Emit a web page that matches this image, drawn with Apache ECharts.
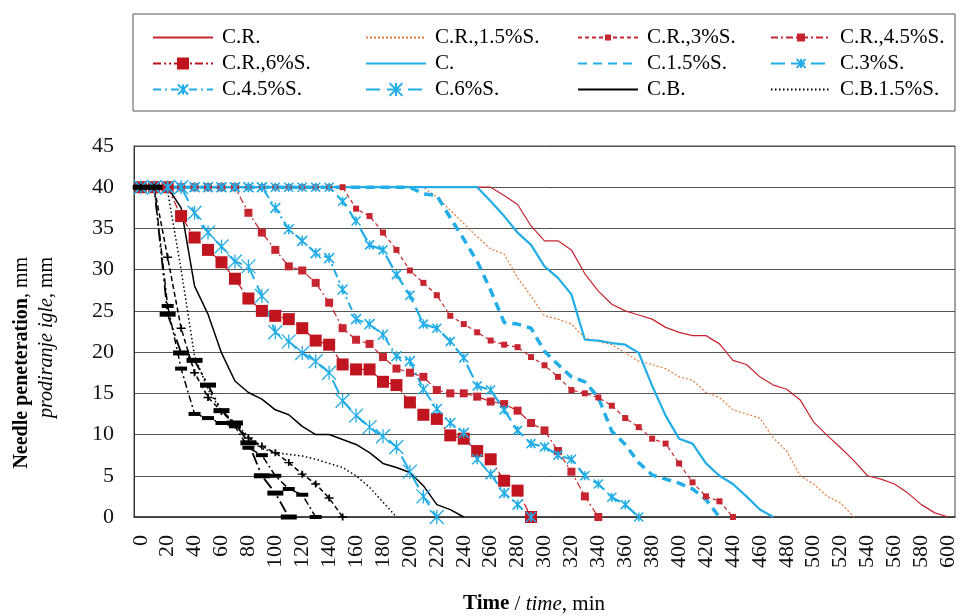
<!DOCTYPE html>
<html><head><meta charset="utf-8">
<script src="https://cdn.jsdelivr.net/npm/echarts/dist/echarts.min.js"></script>
<style>html,body{margin:0;padding:0;background:#fff}#c{width:961px;height:616px}</style>
</head><body><div id="c"></div>
<script>
// time categories (min)
const times = ['0','10','20','30','40','50','60','70','80','90','100','110','120','130','140','150','160','170','180','190','200','210','220','230','240','250','260','270','280','290','300','310','320','330','340','350','360','370','380','390','400','410','420','430','440','450','460','470','480','490','500','510','520','530','540','550','560','570','580','590','600'];

const cR = [40,40,40,40,40,40,40,40,40,40,40,40,40,40,40,40,40,40,40,40,40,40,40,40,40,40,40,39,37.9,35.3,33.5,33.5,32.4,29.5,27.4,25.8,25,24.5,24,23,22.4,22,22,21,19,18.5,17,16,15.5,14.2,11.5,9.9,8.4,6.8,5,4.6,4,2.9,1.5,0.5,0];
const cR15 = [40,40,40,40,40,40,40,40,40,40,40,40,40,40,40,40,40,40,40,40,40,40,38.8,37.2,35.6,34,32.5,31.9,29,26.8,24.4,24,23.4,21.7,21.3,20.9,19.9,18.9,18.5,18,17,16.6,15.1,14.5,13,12.5,12,9.6,8,5,4,2.5,1.7,0];
const cR3 = [40,40,40,40,40,40,40,40,40,40,40,40,40,40,40,40,37.4,36.5,34.5,32.4,29.9,28.4,26.9,24.4,23.4,22.4,21.4,20.9,20.6,19.4,18.4,17,15.4,15,14.5,13.5,12,10.9,9.5,8.9,6.5,4.2,2.5,1.9,0];
const cR45 = [40,40,40,40,40,40,40,40,36.9,34.5,32.4,30.4,29.9,28.4,26,22.9,21.5,21,19.4,18,17.5,17,15.4,15,15,14.6,14,13.7,12.9,11.4,10.5,8,5.5,2.5,0];
const cR6 = [40,40,40,36.5,33.9,32.4,30.9,28.9,26.5,25,24.4,24,22.9,21.4,20.9,18.5,17.9,17.9,16.4,16,13.9,12.4,11.9,9.9,9.5,8,7,4.4,3.2,0];
const c0 = [40,40,40,40,40,40,40,40,40,40,40,40,40,40,40,40,40,40,40,40,40,40,40,40,40,40,38.3,36.5,34.5,33,30.4,29,27,21.5,21.4,21.1,20.9,19.9,15.9,12.3,9.5,8.9,6.5,5,4,2.5,0.9,0];
const c15 = [40,40,40,40,40,40,40,40,40,40,40,40,40,40,40,40,40,40,40,40,40,39.2,39,36.3,33.7,31,27.5,23.6,23.4,22.9,20.1,18.5,17,16.4,14.5,10.4,8.8,6.6,5.1,4.6,4.1,3.4,2.1,0];
const c3 = [40,40,40,40,40,40,40,40,40,40,40,40,40,40,40,38.3,35.9,33,32.4,29.4,26.9,23.4,22.9,21.3,19.3,15.9,15.4,13,10.5,8.9,8.5,7.5,7,5,4,2.4,1.5,0];
const c45 = [40,40,40,40,40,40,40,40,40,40,37.5,34.9,33.5,32,31.4,27.6,24,23.4,22.1,19.5,18.9,15.5,13.1,11.4,10.2,7,5.2,2.9,1.5,0];
const c6 = [40,40,40,40,36.9,34.5,32.8,31,30.4,26.8,22.4,21.3,19.9,18.9,17.5,14.1,12.3,10.9,9.8,8.5,5.5,2.5,0];
const cB = [40,40,40,37.5,28,24.6,19.9,16.5,15.1,14.3,13,12.4,11,10,10,9.4,8.8,7.8,6.5,6,5.4,3.8,1.5,0.9,0];
const cB15 = [40,40,39.5,30,19.5,15.5,12.8,11.3,9.8,8.3,7.8,7.6,7.4,7,6.5,6,5,3.6,1.8,0];
const cB3 = [40,40,31.5,22.9,17.5,14.5,12.8,11.2,9.6,8.6,7.8,6.6,5.2,4,2.3,0];
const cB45 = [40,40,25.6,18,12.5,12,11.4,11,8.4,7.5,5,3.4,2.7,0];
const cB6 = [40,40,24.6,19.9,19,16,12.9,11.4,9,5,2.9,0];

const yTicks = [0,5,10,15,20,25,30,35,40,45];

const RED = '#C62530', DRED = '#C0141F', ORANGE = '#E27A3C', BLUE = '#22ADE6', BLACK = '#000000';
const STAR = 'path://M5 0L5 10M0 0L10 10M0 10L10 0';
const PLUS = 'path://M0 5L10 5M5 1.5L5 8.5';

function mk(name, data, color, width, dash, symbol, size, bw) {
  const s = {
    name: name, type: 'line', data: data, showAllSymbol: true,
    lineStyle: {color: color, width: width, type: dash || 'solid'},
    itemStyle: {color: symbol ? color : 'rgba(0,0,0,0)', borderWidth: 0},
    symbol: symbol || 'rect', symbolSize: size || 1, showSymbol: !!symbol,
    emphasis: {disabled: true}, animation: false
  };
  if (bw) { s.itemStyle.borderColor = color; s.itemStyle.borderWidth = bw; }
  return s;
}

const series = [
  mk('C.R.', cR, RED, 1.2, 'solid'),
  mk('C.R.,1.5%S.', cR15, ORANGE, 1.2, [2,2]),
  mk('C.R.,3%S.', cR3, RED, 1.2, [4,3], 'rect', 6),
  mk('C.R.,4.5%S.', cR45, RED, 1.2, [7,3,2,3], 'rect', 8),
  mk('C.R.,6%S.', cR6, DRED, 1.2, [8,3,2,3,2,3], 'rect', 12),
  mk('C.', c0, BLUE, 2.2, 'solid'),
  mk('C.1.5%S.', c15, BLUE, 3.5, [9,6]),
  mk('C.3%S.', c3, BLUE, 2.2, [14,6], STAR, 9, 1.6),
  mk('C.4.5%S.', c45, BLUE, 2, [8,4,2,4], STAR, 10, 1.6),
  mk('C.6%S.', c6, BLUE, 2, [14,7], STAR, 14, 1.3),
  mk('C.B.', cB, BLACK, 1.5, 'solid'),
  mk('C.B.1.5%S.', cB15, BLACK, 1.5, [1.5,2.5]),
  mk('C.B.3%S.', cB3, BLACK, 1.5, [5,3], PLUS, [9,7], 1.6),
  mk('C.B.4.5%S.', cB45, BLACK, 1.5, [7,3,2,3], 'rect', [12,4]),
  mk('C.B.6%S.', cB6, BLACK, 1.8, [12,4,2,4,2,4], 'rect', [16,5])
];

const FONT = '"Liberation Serif", "Times New Roman", serif';
// legend layout: [name, column left, row center, icon height]
const legendItems = [
  ['C.R.', 152, 37, 14], ['C.R.,1.5%S.', 365, 37, 14], ['C.R.,3%S.', 577, 37, 7.5], ['C.R.,4.5%S.', 770, 37, 10],
  ['C.R.,6%S.', 152, 63, 15], ['C.', 365, 63, 14], ['C.1.5%S.', 577, 63, 14], ['C.3%S.', 770, 63, 11],
  ['C.4.5%S.', 152, 89, 12.5], ['C.6%S.', 365, 89, 16], ['C.B.', 577, 89, 14], ['C.B.1.5%S.', 770, 89, 14]
];
const legends = legendItems.map(function (it) {
  return {
    orient: 'horizontal', left: it[1], top: it[2] - 10, itemWidth: 60, itemHeight: it[3], padding: 0,
    data: [it[0]], selectedMode: false,
    textStyle: {fontFamily: FONT, fontSize: 21, color: '#000', lineHeight: 20, padding: [0,0,0,4]}
  };
});

const chart = echarts.init(document.getElementById('c'), null, {renderer: 'canvas'});
chart.setOption({
  animation: false,
  backgroundColor: '#fff',
  grid: {left: 134, right: 6, top: 146, bottom: 99, show: true, borderColor: '#444', borderWidth: 1},
  legend: legends,
  xAxis: {
    type: 'category', data: times, boundaryGap: true,
    axisLine: {show: true, lineStyle: {color: '#333', width: 1.5}},
    axisTick: {show: false},
    axisLabel: {interval: 1, rotate: 90, margin: 18, fontFamily: FONT, fontSize: 22, color: '#111'},
    splitLine: {show: false}
  },
  yAxis: {
    type: 'value', min: yTicks[0], max: yTicks[yTicks.length-1], interval: 5,
    axisLine: {show: true, lineStyle: {color: '#333', width: 1}},
    axisTick: {show: false},
    axisLabel: {margin: 20, fontFamily: FONT, fontSize: 22, color: '#111'},
    splitLine: {show: true, lineStyle: {color: '#555', width: 1}}
  },
  graphic: [
    {type: 'rect', shape: {x: 133, y: 14, width: 822, height: 97}, style: {fill: 'none', stroke: '#555', lineWidth: 1}, silent: true},
    {type: 'text', x: 34, y: 257, rotation: Math.PI / 2, silent: true,
     style: {text: '{b|Needle peneteration}{n|, mm}\n{i|prodiranje igle}{n|, mm}', align: 'right', verticalAlign: 'middle',
       fill: '#000', font: '20px ' + FONT, lineHeight: 25,
       rich: {b: {fontFamily: FONT, fontSize: 20, fontWeight: 'bold', fill: '#000', lineHeight: 25},
              i: {fontFamily: FONT, fontSize: 20, fontStyle: 'italic', fill: '#000', lineHeight: 25},
              n: {fontFamily: FONT, fontSize: 20, fill: '#000', lineHeight: 25}}}},
    {type: 'text', x: 534, y: 604, silent: true,
     style: {text: '{b|Time}{n| / }{i|time}{n|, min}', align: 'center', verticalAlign: 'middle',
       fill: '#000', font: '21px ' + FONT,
       rich: {b: {fontFamily: FONT, fontSize: 21, fontWeight: 'bold', fill: '#000'},
              i: {fontFamily: FONT, fontSize: 21, fontStyle: 'italic', fill: '#000'},
              n: {fontFamily: FONT, fontSize: 21, fill: '#000'}}}}
  ],
  series: series
});
</script>
</body></html>
